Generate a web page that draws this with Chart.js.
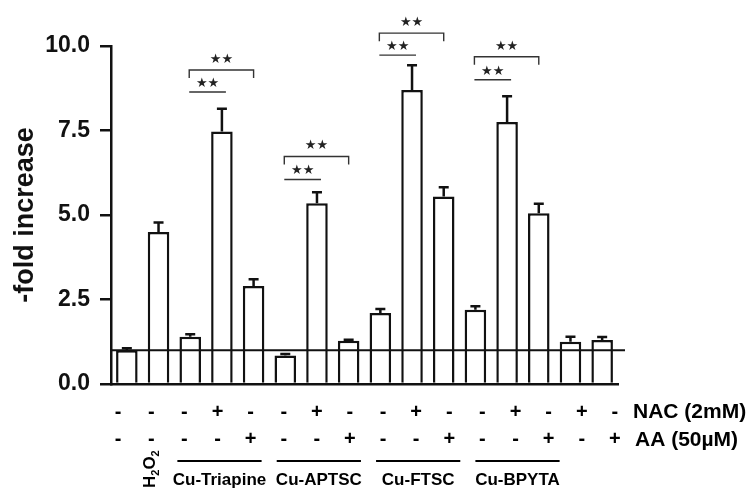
<!DOCTYPE html>
<html>
<head>
<meta charset="utf-8">
<script src="https://cdn.jsdelivr.net/npm/chart.js@4.4.1/dist/chart.umd.min.js"></script>
<style>
  html, body { margin: 0; padding: 0; background: #fff; }
  #wrap { width: 755px; height: 491px; position: relative; }
</style>
</head>
<body>
<div id="wrap"><canvas id="chart"></canvas></div>
<script>
// data
const values = [1.0, 4.5, 1.4, 7.47, 2.9, 0.84, 5.35, 1.28, 2.1, 8.7, 5.55, 2.2, 7.75, 5.05, 1.25, 1.3];
const errors = [0.06, 0.28, 0.07, 0.67, 0.2, 0.05, 0.32, 0.03, 0.12, 0.73, 0.27, 0.1, 0.76, 0.28, 0.15, 0.09];
const nacRow = ['-', '-', '-', '+', '-', '-', '+', '-', '-', '+', '-', '-', '+', '-', '+', '-'];
const aaRow  = ['-', '-', '-', '-', '+', '-', '-', '+', '-', '-', '+', '-', '-', '+', '-', '+'];
const categories = values.map((v, i) => 'c' + (i + 1));
const yTicks = [0, 2.5, 5, 7.5, 10];
const baseline = 1.0;

const groupNames = ['Cu-Triapine', 'Cu-APTSC', 'Cu-FTSC', 'Cu-BPYTA'];
const groupStart = [2, 5, 8, 11];
const groupEnd = [4, 7, 10, 13];

// significance marks: from bar, to bar, height, bracket or plain line
const sigFrom = [2, 2, 5, 5, 8, 8, 11, 11];
const sigTo = [3, 4, 6, 7, 9, 10, 12, 13];
const sigLevel = [8.64, 9.29, 6.05, 6.73, 9.73, 10.38, 9.0, 9.68];
const sigBracket = [false, true, false, true, false, true, false, true];

const FONT = '"Liberation Sans", Arial, Helvetica, sans-serif';

const extras = {
    id: 'extras',
    afterDatasetsDraw(chart) {
        const ctx = chart.ctx;
        const x = chart.scales.x;
        const y = chart.scales.y;
        ctx.save();

        // error bars
        ctx.strokeStyle = '#111';
        ctx.lineWidth = 2.5;
        values.forEach((v, i) => {
            const px = x.getPixelForValue(i);
            const top = y.getPixelForValue(v);
            const cap = y.getPixelForValue(v + errors[i]);
            ctx.beginPath();
            ctx.moveTo(px, top);
            ctx.lineTo(px, cap);
            ctx.moveTo(px - 5, cap);
            ctx.lineTo(px + 5, cap);
            ctx.stroke();
        });

        // reference line at 1.0
        const by = y.getPixelForValue(baseline);
        ctx.lineWidth = 2;
        ctx.beginPath();
        ctx.moveTo(x.left, by);
        ctx.lineTo(x.right + 7, by);
        ctx.stroke();

        // significance lines / brackets
        ctx.strokeStyle = '#333';
        ctx.fillStyle = '#222';
        ctx.lineWidth = 1.4;
        ctx.font = '13px "DejaVu Sans", sans-serif';
        ctx.textAlign = 'center';
        ctx.textBaseline = 'bottom';
        sigFrom.forEach((f, k) => {
            const x1 = x.getPixelForValue(f) - 1;
            const x2 = x.getPixelForValue(sigTo[k]) + (sigBracket[k] ? 0 : 4);
            const ly = y.getPixelForValue(sigLevel[k]);
            ctx.beginPath();
            if (sigBracket[k]) {
                ctx.moveTo(x1, ly + 8);
                ctx.lineTo(x1, ly);
                ctx.lineTo(x2, ly);
                ctx.lineTo(x2, ly + 8);
            } else {
                ctx.moveTo(x1, ly);
                ctx.lineTo(x2, ly);
            }
            ctx.stroke();
            ctx.fillText('\u2605\u2605', (x1 + x2) / 2, ly - (sigBracket[k] ? 4 : 2));
        });

        // treatment rows under the axis
        const mid = (x.left + x.right) / 2;
        const labelX = i => mid + (x.getPixelForValue(i) - mid) * 1.045 + 2;
        ctx.fillStyle = '#000';
        ctx.strokeStyle = '#000';
        ctx.textBaseline = 'middle';
        ctx.font = 'bold 20px ' + FONT;
        nacRow.forEach((s, i) => ctx.fillText(s, labelX(i), 412));
        aaRow.forEach((s, i) => ctx.fillText(s, labelX(i), 439));

        ctx.textAlign = 'left';
        ctx.font = 'bold 21px ' + FONT;
        ctx.fillText('NAC (2mM)', x.right + 15, 412);
        ctx.fillText('AA (50\u00b5M)', x.right + 17, 440);

        // compound groups
        ctx.lineWidth = 2;
        ctx.textAlign = 'center';
        ctx.font = 'bold 17px ' + FONT;
        groupNames.forEach((name, g) => {
            const a = labelX(groupStart[g]) - 7;
            const b = labelX(groupEnd[g]) + 11;
            ctx.beginPath();
            ctx.moveTo(a, 461);
            ctx.lineTo(b, 461);
            ctx.stroke();
            ctx.fillText(name, (a + b) / 2, 480);
        });

        // rotated H2O2
        ctx.save();
        ctx.translate(labelX(1) + 4, 488);
        ctx.rotate(-Math.PI / 2);
        ctx.textAlign = 'left';
        ctx.textBaseline = 'alphabetic';
        let tx = 0;
        const parts = [['H', 17, 0], ['2', 11, 4], ['O', 17, 0], ['2', 11, 4]];
        parts.forEach(p => {
            ctx.font = 'bold ' + p[1] + 'px ' + FONT;
            ctx.fillText(p[0], tx, p[2]);
            tx += ctx.measureText(p[0]).width;
        });
        ctx.restore();

        ctx.restore();
    }
};

new Chart(document.getElementById('chart'), {
    type: 'bar',
    data: {
        labels: categories,
        datasets: [{
            data: values,
            backgroundColor: '#fff',
            borderColor: '#111',
            borderWidth: 2.5,
            barPercentage: 0.68,
            categoryPercentage: 1.0
        }]
    },
    options: {
        responsive: true,
        maintainAspectRatio: false,
        animation: false,
        layout: { padding: { left: 0, right: 137, top: 46, bottom: 0 } },
        plugins: {
            legend: { display: false },
            tooltip: { enabled: false }
        },
        scales: {
            x: {
                offset: true,
                grid: { display: false },
                border: { display: true, color: '#111', width: 2.5 },
                ticks: { display: false },
                afterFit(scale) { scale.height = 107; }
            },
            y: {
                min: 0,
                max: 10,
                afterBuildTicks(scale) { scale.ticks = yTicks.map(v => ({ value: v })); },
                grid: { drawOnChartArea: false, drawTicks: true, tickLength: 11, color: '#111', lineWidth: 2.5 },
                border: { display: true, color: '#111', width: 2.5 },
                ticks: {
                    color: '#111',
                    padding: 10,
                    font: { family: FONT, size: 23, weight: 'bold' },
                    callback: v => v.toFixed(1)
                },
                title: {
                    display: true,
                    text: '-fold increase',
                    color: '#111',
                    font: { family: FONT, size: 27, weight: 'bold' },
                    padding: { top: 9, bottom: 0 }
                },
                afterFit(scale) { scale.width = 111; }
            }
        }
    },
    plugins: [extras]
});
</script>
</body>
</html>
